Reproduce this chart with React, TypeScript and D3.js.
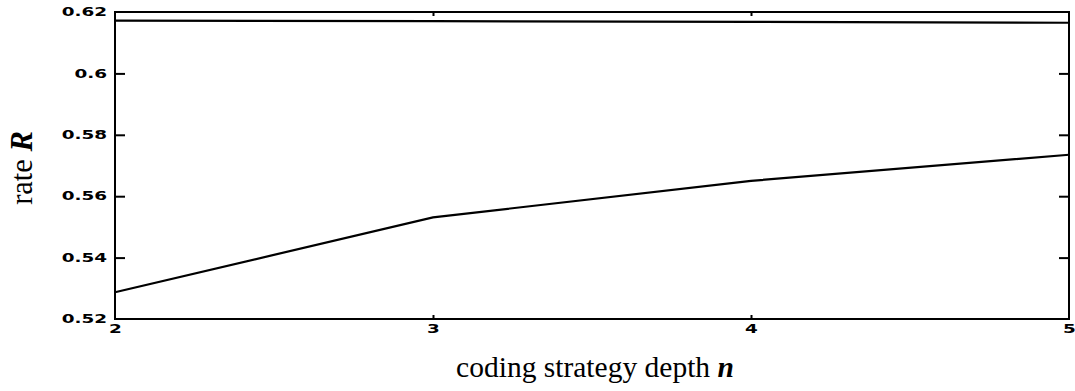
import { useEffect, useRef } from "react";
import * as d3 from "d3";

// coding strategy depth n
const depths = [2, 3, 4, 5];
// upper curve (nearly flat, just under 0.62)
const upperRate = [0.6172, 0.617, 0.6168, 0.6165];
// lower curve
const lowerRate = [0.5287, 0.5531, 0.565, 0.5735];
const yTicks = [0.52, 0.54, 0.56, 0.58, 0.6, 0.62];
const xTicks = [2, 3, 4, 5];

const W = 1075;
const H = 391;
const margin = { top: 12, right: 6, bottom: 72, left: 115 };

const Chart = () => {
  const ref = useRef<SVGSVGElement>(null);

  useEffect(() => {
    const svg = d3.select(ref.current);
    svg.selectAll("*").remove();

    const iw = W - margin.left - margin.right;
    const ih = H - margin.top - margin.bottom;

    const x = d3.scaleLinear().domain([2, 5]).range([0, iw]);
    const y = d3.scaleLinear().domain([0.52, 0.62]).range([ih, 0]);

    const g = svg
      .append("g")
      .attr("transform", "translate(" + margin.left + "," + margin.top + ")");

    const sx = 1.6; // tick font is very wide
    const tickFont = (sel: any) =>
      sel
        .style("font-family", "'DejaVu Sans', sans-serif")
        .style("font-weight", 700)
        .style("font-size", "11.5px")
        .attr("fill", "black");

    // left axis, ticks pointing inwards
    const left = g
      .append("g")
      .call(
        d3
          .axisLeft(y)
          .tickValues(yTicks)
          .tickSize(-10)
          .tickPadding(8)
          .tickFormat(d3.format("~g"))
      );
    left.select(".domain").remove();
    left.selectAll("line").attr("stroke", "black").attr("stroke-width", 2);
    left
      .selectAll("text")
      .call(tickFont)
      .attr("x", -8 / sx)
      .attr("transform", "scale(" + sx + ",1)");
    // first/last tick marks sit on the frame
    left.selectAll(".tick").filter((d: any) => d === 0.52 || d === 0.62).select("line").remove();

    // right axis ticks
    const right = g
      .append("g")
      .attr("transform", "translate(" + iw + ",0)")
      .call(d3.axisRight(y).tickValues(yTicks.slice(1, -1)).tickSize(-10).tickFormat(() => ""));
    right.select(".domain").remove();
    right.selectAll("line").attr("stroke", "black").attr("stroke-width", 2);

    // bottom axis
    const bottom = g
      .append("g")
      .attr("transform", "translate(0," + ih + ")")
      .call(d3.axisBottom(x).tickValues(xTicks).tickSize(-4).tickPadding(6).tickFormat(d3.format("d")));
    bottom.select(".domain").remove();
    bottom.selectAll("line").attr("stroke", "black").attr("stroke-width", 2);
    bottom
      .selectAll("text")
      .call(tickFont)
      .attr("transform", "scale(" + sx + ",1)");
    bottom.selectAll(".tick").filter((d: any) => d === 2 || d === 5).select("line").remove();

    // top ticks
    const top = g
      .append("g")
      .call(d3.axisTop(x).tickValues(xTicks.slice(1, -1)).tickSize(-4).tickFormat(() => ""));
    top.select(".domain").remove();
    top.selectAll("line").attr("stroke", "black").attr("stroke-width", 2);

    // frame
    g.append("rect")
      .attr("x", 0)
      .attr("y", 0)
      .attr("width", iw)
      .attr("height", ih)
      .attr("fill", "none")
      .attr("stroke", "black")
      .attr("stroke-width", 2);

    const line = d3
      .line<number>()
      .x((d, i) => x(depths[i]))
      .y((d) => y(d));

    [upperRate, lowerRate].forEach((s) => {
      g.append("path")
        .datum(s)
        .attr("d", line)
        .attr("fill", "none")
        .attr("stroke", "black")
        .attr("stroke-width", 2.2);
    });

    // axis titles
    const xl = svg
      .append("text")
      .attr("x", 595)
      .attr("y", 377)
      .attr("text-anchor", "middle")
      .style("font-family", "'Liberation Serif', 'Times New Roman', serif")
      .style("font-size", "29.5px")
      .attr("fill", "black");
    xl.append("tspan").text("coding strategy depth ");
    xl.append("tspan").style("font-weight", 700).style("font-style", "italic").text("n");

    const yl = svg
      .append("text")
      .attr("transform", "translate(32,168) rotate(-90)")
      .attr("text-anchor", "middle")
      .style("font-family", "'Liberation Serif', 'Times New Roman', serif")
      .style("font-size", "30.5px")
      .attr("fill", "black");
    yl.append("tspan").text("rate ");
    yl.append("tspan").style("font-weight", 700).style("font-style", "italic").text("R");
  }, []);

  return (
    <svg
      ref={ref}
      width={W}
      height={H}
      style={{ position: "absolute", left: 0, top: 0, background: "white" }}
    />
  );
};

export default function App() {
  return <Chart />;
}
